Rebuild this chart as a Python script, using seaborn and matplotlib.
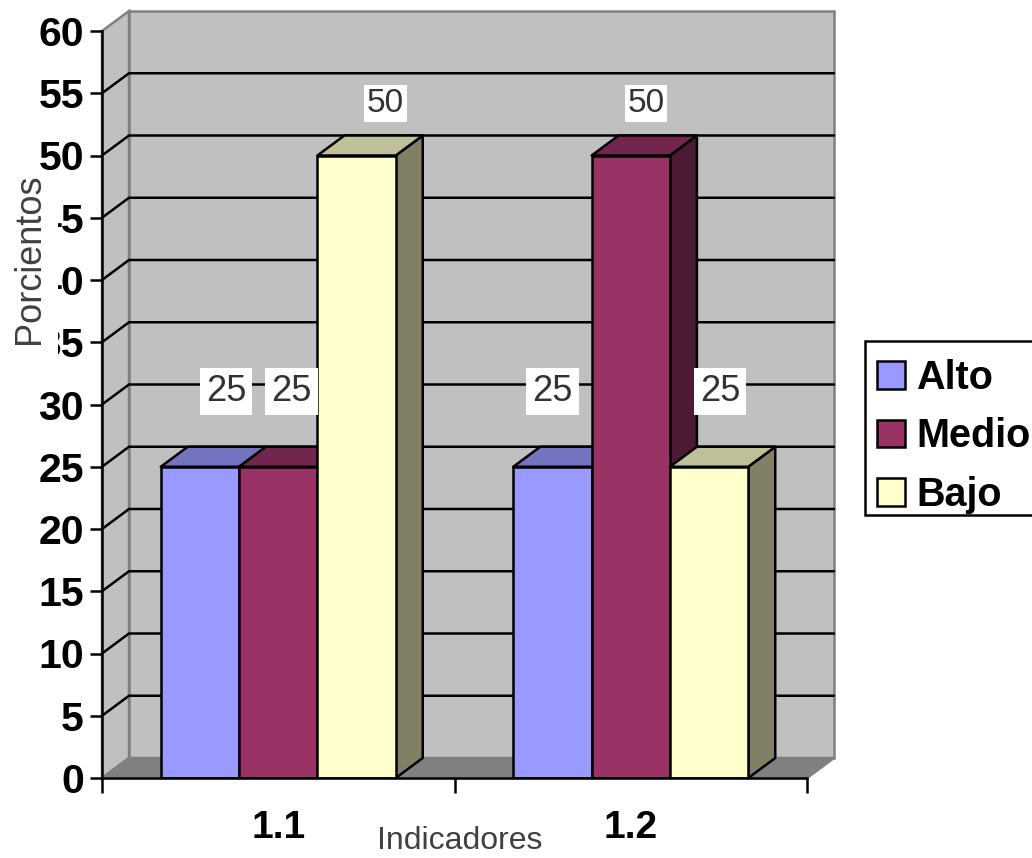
import seaborn as sns
import pandas as pd
import matplotlib.pyplot as plt
from matplotlib.colors import to_rgb
from matplotlib.patches import Polygon, Rectangle

# data
categories = ["1.1", "1.2"]
alto = [25, 25]
medio = [25, 50]
bajo = [50, 25]
series_names = ["Alto", "Medio", "Bajo"]
y_ticks = list(range(0, 65, 5))

# style
colors = ["#9999FF", "#993366", "#FFFFCC"]
wall = "#C0C0C0"
edge_gray = "#808080"
W, H = 1032, 858
LEFT, RIGHT, TOP, BOTTOM = 102, 807, 31, 778   # front plane in pixels
DEPTH_PX = (27, 20)
LW = 1.8

# label shift from bar centre in pixels, one per category
label_dx = {"Alto": [26, 0], "Medio": [13, 15], "Bajo": [29, 11]}

sns.set_theme(style="white")
plt.rcParams["font.family"] = ["Liberation Sans", "DejaVu Sans"]

df = pd.DataFrame({
    "cat": categories * 3,
    "serie": [s for s in series_names for _ in categories],
    "val": alto + medio + bajo,
})

fig = plt.figure(figsize=(W / 100, H / 100), dpi=100)
ax = fig.add_axes([LEFT / W, 1 - BOTTOM / H, (RIGHT - LEFT) / W, (BOTTOM - TOP) / H])
ax.patch.set_alpha(0)

sns.barplot(data=df, x="cat", y="val", hue="serie", hue_order=series_names,
            palette=colors, width=2 / 3, gap=0, dodge=True, saturation=1,
            edgecolor="black", linewidth=LW, ax=ax)
ax.set_xlim(-0.5, 1.5)
ax.set_ylim(0, 60)

# depth in data units
dx = DEPTH_PX[0] * 2 / (RIGHT - LEFT)
dy = DEPTH_PX[1] * 60 / (BOTTOM - TOP)
x0, x1 = ax.get_xlim()

# walls and floor
ax.add_patch(Polygon([(x0 + dx, dy), (x1 + dx, dy), (x1 + dx, 60 + dy), (x0 + dx, 60 + dy)],
                     fc=wall, ec=edge_gray, lw=LW, clip_on=False, zorder=0.5))
ax.add_patch(Polygon([(x0, 0), (x0 + dx, dy), (x0 + dx, 60 + dy), (x0, 60)],
                     fc=wall, ec=edge_gray, lw=LW, clip_on=False, zorder=0.5))
ax.add_patch(Polygon([(x0, 0), (x1, 0), (x1 + dx, dy), (x0 + dx, dy)],
                     fc=edge_gray, ec=edge_gray, lw=LW, clip_on=False, zorder=0.6))

# gridlines on the back wall and the side wall
for t in y_ticks[1:-1]:
    ax.plot([x0, x0 + dx, x1 + dx], [t, t + dy, t + dy], color="black", lw=LW,
            clip_on=False, zorder=0.8, solid_joinstyle="miter")

# 3d faces of the bars, left to right
bars = []
for name, cont in zip(series_names, ax.containers):
    for i, b in enumerate(cont):
        bars.append((b, to_rgb(colors[series_names.index(name)]), name, i))
bars.sort(key=lambda r: r[0].get_x())

for n, (b, col, name, i) in enumerate(bars):
    bx, bw, bh = b.get_x(), b.get_width(), b.get_height()
    top_col = tuple(c * 0.75 for c in col)
    side_col = tuple(c * 0.5 for c in col)
    ax.add_patch(Polygon([(bx + bw, 0), (bx + bw + dx, dy), (bx + bw + dx, bh + dy), (bx + bw, bh)],
                         fc=side_col, ec="black", lw=LW, clip_on=False, zorder=2 + n,
                         joinstyle="round"))
    ax.add_patch(Polygon([(bx, bh), (bx + bw, bh), (bx + bw + dx, bh + dy), (bx + dx, bh + dy)],
                         fc=top_col, ec="black", lw=LW, clip_on=False, zorder=2 + n,
                         joinstyle="round"))
    b.set_zorder(2.1 + n)

    # value label
    up, size, pad = (75, 26, 4.5) if bh == 25 else (52, 24, 2)
    ax.annotate(f"{bh:.0f}", (bx + bw / 2, bh), xytext=(label_dx[name][i] * 0.72, up * 0.72),
                textcoords="offset points", ha="center", va="center",
                fontsize=size, color="#333333", zorder=50,
                bbox=dict(fc="white", ec="none", pad=pad))

# axes
for s in ["top", "right"]:
    ax.spines[s].set_visible(False)
for s in ["left", "bottom"]:
    ax.spines[s].set_color("black")
    ax.spines[s].set_linewidth(LW)
    ax.spines[s].set_zorder(40)

ax.set_yticks(y_ticks)
ax.set_yticklabels([str(t) for t in y_ticks], fontsize=29.5, fontweight="bold", color="black")
ax.tick_params(axis="y", length=8.6, width=LW, pad=4.5, color="black", left=True)

ax.set_xticks([-0.5, 0.5, 1.5])
ax.set_xticklabels([])
ax.set_xticks([0, 1], minor=True)
ax.set_xticklabels(categories, minor=True, fontsize=28, fontweight="bold", color="black")
ax.tick_params(axis="x", which="major", length=11, width=LW, color="black", bottom=True)
ax.tick_params(axis="x", which="minor", length=0, pad=23)

ax.set_ylabel("")
ax.set_xlabel("Indicadores", fontsize=23, color="#404040", va="center")
ax.xaxis.set_label_coords((460 - LEFT) / (RIGHT - LEFT), (BOTTOM - 841) / (BOTTOM - TOP))

# the y title sits in a white box that cuts into the tick labels
ax.add_patch(Rectangle((0, 1 - 360 / H), 58 / W, 188 / H, transform=fig.transFigure,
                       fc="white", ec="none", clip_on=False, zorder=30))
ax.text((29 - LEFT) / (RIGHT - LEFT), (BOTTOM - 259) / (BOTTOM - TOP), "Porcientos",
        transform=ax.transAxes, rotation=90, ha="center", va="center",
        fontsize=26, color="#404040", zorder=31)

# legend runs off the right edge like the original, frame drawn on its own
handles, labels = ax.get_legend_handles_labels()
ax.add_patch(Rectangle((865 / W, 1 - 515 / H), 180 / W, 174 / H, transform=fig.transFigure,
                       fc="white", ec="black", lw=LW, clip_on=False, zorder=55))
leg = ax.legend(handles, labels, loc="upper left", bbox_to_anchor=(865 / W, 1 - 347 / H),
                bbox_transform=fig.transFigure, borderaxespad=0, frameon=False,
                prop={"size": 28.5, "weight": "bold"}, labelcolor="black",
                handlelength=0.7, handleheight=0.7, handletextpad=0.3, labelspacing=0.52,
                borderpad=0.3, title=None)
leg.set_zorder(60)

fig.savefig("out.png", dpi=100)
